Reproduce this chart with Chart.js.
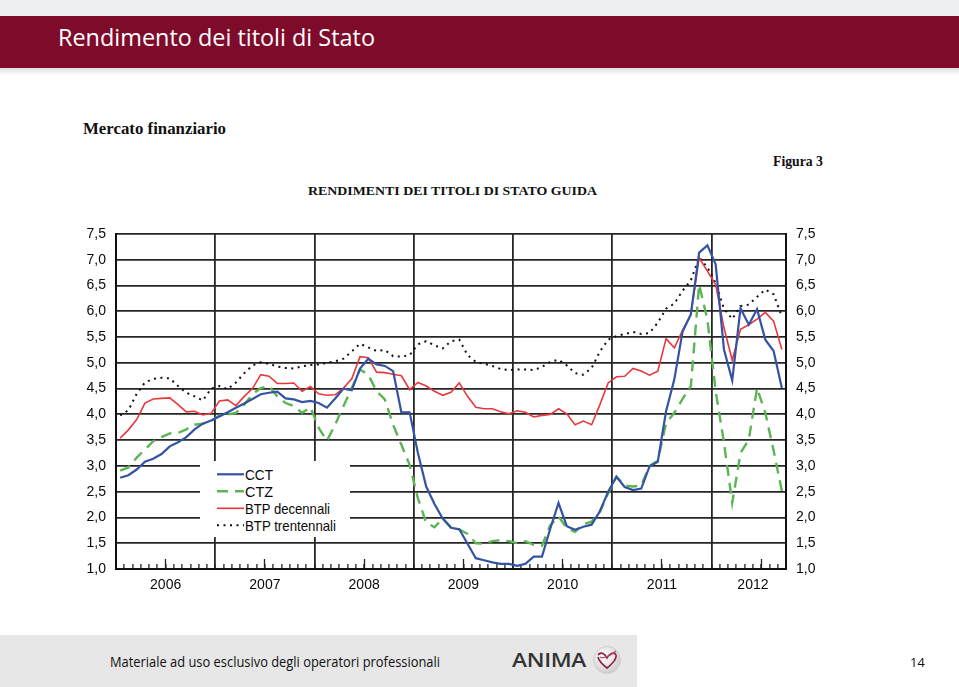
<!DOCTYPE html>
<html lang="it"><head><meta charset="utf-8"><title>Rendimento dei titoli di Stato</title>
<script src="https://cdn.jsdelivr.net/npm/chart.js@4.4.1/dist/chart.umd.min.js"></script>
<style>
html,body{margin:0;padding:0;background:#fff;}
#page{position:relative;width:959px;height:687px;overflow:hidden;background:#fff;}
.abs{position:absolute;white-space:nowrap;line-height:1;transform-origin:0 0;}
#topband{left:0;top:0;width:959px;height:16px;background:#eef0f3;}
#bar{left:0;top:16px;width:959px;height:52px;background:#7f0b2b;}
#shadow{left:0;top:68px;width:959px;height:7px;background:linear-gradient(#dedede,#ffffff);}
#title{left:58px;top:19.5px;color:#fff;font:24px "Open Sans",sans-serif;}
#sub{left:83px;top:119.6px;font:bold 16px "Liberation Serif",serif;color:#111;}
#fig{left:773px;top:153.8px;font:bold 14px "Liberation Serif",serif;color:#111;}
#ctitle{left:308px;top:182.6px;font:bold 13px "Liberation Serif",serif;color:#111;}
#chart{position:absolute;left:0;top:0;}
#legend{left:200px;top:461px;width:150px;height:76px;background:#fff;}
#legend .row{position:absolute;left:0;width:150px;height:16px;}
#legend svg{position:absolute;left:17px;top:0;}
#legend .lt{position:absolute;left:45px;top:0;font:14.5px "Liberation Sans",Arial,sans-serif;color:#0a0a0a;white-space:nowrap;line-height:1;transform-origin:0 0;}
#footer{left:0;top:635px;width:637px;height:52px;background:#e7e7e7;}
#ftext{left:110px;top:651.5px;font:14px "Open Sans",sans-serif;color:#111;}
#anima{left:512px;top:646px;font:600 20px "Open Sans",sans-serif;color:#333;letter-spacing:-0.3px;}
#logo{left:592px;top:645px;}
#pnum{left:910px;top:653px;font:13px "Open Sans",sans-serif;color:#111;}
</style></head>
<body><div id="page">
<div class="abs" id="topband"></div>
<div class="abs" id="bar"></div>
<div class="abs" id="shadow"></div>
<div class="abs" id="title">Rendimento dei titoli di Stato</div>
<div class="abs" id="sub">Mercato finanziario</div>
<div class="abs" id="fig">Figura 3</div>
<div class="abs" id="ctitle">RENDIMENTI DEI TITOLI DI STATO GUIDA</div>
<canvas id="chart" width="959" height="687"></canvas>
<div class="abs" id="legend"></div>
<div class="abs" id="footer"></div>
<div class="abs" id="ftext">Materiale ad uso esclusivo degli operatori professionali</div>
<div class="abs" id="anima">ANIMA</div>
<svg class="abs" id="logo" width="30" height="30" viewBox="0 0 30 30">
<defs><radialGradient id="g" cx="40%" cy="35%" r="65%"><stop offset="0" stop-color="#ffffff"/><stop offset="1" stop-color="#cfcfcf"/></radialGradient></defs>
<circle cx="15" cy="15" r="13.5" fill="url(#g)" stroke="#c9c9c9" stroke-width="0.8"/>
<path d="M6 10 C9 6,13 9,15 13 C17 9,22 6,24 10 C25 14,19 20,15 23 C11 20,7 16,6 12" fill="none" stroke="#8c1d45" stroke-width="1.6"/>
<path d="M8 12 C12 14,18 11,24 6" fill="none" stroke="#b04a72" stroke-width="1.2"/>
</svg>
<div class="abs" id="pnum">14</div>
</div>
<script>
// ---- data (monthly, Jan 2006 - Sep 2012) ----
const yearLabels = ['2006','2007','2008','2009','2010','2011','2012'];
const yearLabelPos = [6,18,30,42,54,66,77];
const midYearTicks = [6,18,30,42,54,66,78];
const seriesNames = ['CCT','CTZ','BTP decennali','BTP trentennali'];
const cct = [2.77,2.82,2.93,3.08,3.14,3.23,3.38,3.46,3.56,3.71,3.82,3.88,
3.96,4.04,4.13,4.21,4.30,4.39,4.42,4.44,4.31,4.29,4.24,4.26,
4.22,4.13,4.31,4.50,4.47,4.89,5.08,4.97,4.94,4.84,4.04,4.04,
3.25,2.60,2.26,1.98,1.80,1.77,1.49,1.21,1.17,1.13,1.10,1.10,
1.06,1.10,1.24,1.24,1.78,2.28,1.83,1.76,1.82,1.86,2.12,2.50,
2.79,2.59,2.53,2.56,2.99,3.08,4.06,4.68,5.61,5.94,7.14,7.28,
6.91,5.26,4.66,6.06,5.74,6.04,5.45,5.23,4.51];
const ctz = [2.91,2.97,3.16,3.32,3.48,3.56,3.63,3.64,3.71,3.80,3.82,3.87,
3.98,4.00,4.03,4.19,4.39,4.51,4.55,4.35,4.22,4.16,4.03,4.14,
3.74,3.49,3.80,4.16,4.51,4.87,4.77,4.45,4.29,3.80,3.41,3.02,
2.37,1.90,1.81,1.98,1.81,1.77,1.68,1.50,1.49,1.54,1.56,1.54,
1.50,1.54,1.47,1.45,1.85,2.02,1.79,1.72,1.87,1.92,2.11,2.47,
2.79,2.62,2.60,2.62,3.00,3.10,3.83,4.03,4.30,4.55,6.52,5.84,
4.45,3.45,2.28,3.25,3.51,4.51,4.03,3.30,2.51];
const btp10 = [3.54,3.70,3.90,4.22,4.30,4.31,4.32,4.19,4.05,4.06,3.99,4.02,
4.26,4.28,4.17,4.35,4.50,4.77,4.74,4.60,4.60,4.61,4.45,4.54,
4.40,4.37,4.38,4.51,4.69,5.12,5.10,4.82,4.81,4.78,4.75,4.48,
4.62,4.55,4.45,4.37,4.43,4.61,4.35,4.14,4.11,4.11,4.05,4.01,
4.07,4.04,3.95,3.98,4.00,4.11,4.01,3.80,3.87,3.80,4.19,4.61,
4.73,4.74,4.89,4.84,4.76,4.84,5.47,5.29,5.63,5.94,7.04,6.78,
6.52,5.68,5.05,5.65,5.74,5.85,5.98,5.81,5.26];
const btp30 = [3.98,4.08,4.40,4.62,4.69,4.71,4.70,4.55,4.42,4.35,4.27,4.50,
4.55,4.49,4.62,4.80,4.95,5.01,4.98,4.93,4.90,4.89,4.93,4.96,
4.97,5.00,5.03,5.08,5.22,5.37,5.30,5.23,5.25,5.13,5.12,5.15,
5.36,5.42,5.34,5.28,5.42,5.45,5.15,5.02,4.98,4.94,4.88,4.86,
4.87,4.87,4.86,4.92,5.02,5.06,4.95,4.80,4.77,4.90,5.22,5.45,
5.52,5.56,5.60,5.56,5.58,5.78,6.05,6.15,6.40,6.60,7.05,6.85,
6.55,6.05,5.85,6.10,6.13,6.28,6.42,6.33,5.90];
const yMin = 1.0, yMax = 7.5, yStep = 0.5;
const nMonths = 81;

const toPts = arr => arr.map((v,i)=>({x:i+0.5,y:v}));
const styles = [
  {color:'#3453a3', width:2.2, dash:[], order:0},
  {color:'#5ab552', width:2.4, dash:[11,7], order:3},
  {color:'#e8383d', width:1.6, dash:[], order:1},
  {color:'#111111', width:2, dash:[2,4.5], order:2}
];
const series = [cct, ctz, btp10, btp30];
const datasets = series.map((s,i)=>({
  label: seriesNames[i], data: toPts(s),
  borderColor: styles[i].color, borderWidth: styles[i].width, borderDash: styles[i].dash,
  pointRadius:0, tension:0, fill:false, order: styles[i].order
}));

const fmt = v => Number(v).toFixed(1).replace('.',',');
const tickFont = {family:'"Liberation Sans", Arial, sans-serif', size:14};
const gridDark = '#262626';

const chart = new Chart(document.getElementById('chart'), {
  type:'line',
  data:{datasets},
  options:{
    responsive:false, animation:false, devicePixelRatio:1,
    layout:{padding:{left:0,right:0,top:234,bottom:88}},
    plugins:{legend:{display:false}, tooltip:{enabled:false}},
    scales:{
      x:{type:'linear', position:'bottom', min:0, max:nMonths,
        afterBuildTicks: s => { const t=[]; for(let m=0;m<=nMonths;m++) t.push({value:m}); s.ticks=t; },
        ticks:{autoSkip:false, maxRotation:0, minRotation:0, padding:13, font:tickFont, color:'#0a0a0a',
          callback: v => { const i = yearLabelPos.indexOf(v); return i>=0 ? yearLabels[i] : ''; }},
        grid:{color: c => (c.tick && (c.tick.value % 12 === 0 || c.tick.value === nMonths)) ? gridDark : 'rgba(0,0,0,0)',
          lineWidth:1.8, drawTicks:true, tickLength:-5, tickColor:'#222', tickWidth:1.3},
        border:{display:true, color:'#111', width:2},
        afterFit: s => { s.height = 30; }
      },
      x2:{type:'linear', axis:'x', position:{y:1}, min:0, max:nMonths,
        afterBuildTicks: s => { s.ticks = midYearTicks.map(v=>({value:v})); },
        ticks:{display:false},
        grid:{drawOnChartArea:false, drawTicks:true, tickLength:-10, tickColor:'#222', tickWidth:1.3},
        border:{display:false},
        afterFit: s => { s.height = 0; }
      },
      y:{type:'linear', position:'left', min:yMin, max:yMax,
        ticks:{stepSize:yStep, padding:10, font:tickFont, color:'#0a0a0a', callback:fmt},
        grid:{color:gridDark, lineWidth:1.8, drawTicks:false},
        border:{display:true, color:'#111', width:2},
        afterFit: s => { s.width = 116; }
      },
      y2:{type:'linear', position:'right', min:yMin, max:yMax,
        ticks:{stepSize:yStep, padding:10, font:tickFont, color:'#0a0a0a', callback:fmt},
        grid:{drawOnChartArea:false, drawTicks:false},
        border:{display:true, color:'#111', width:2},
        afterFit: s => { s.width = 173; }
      }
    }
  }
});

// ---- legend built from the chart datasets ----
const leg = document.getElementById('legend');
const rowTops = [7.5, 24.7, 41.9, 59.1];
chart.data.datasets.forEach((d,i)=>{
  const row = document.createElement('div'); row.className='row'; row.style.top = (rowTops[i]-1)+'px';
  const dash = (d.borderDash && d.borderDash.length) ? d.borderDash.join(',') : 'none';
  row.innerHTML = '<svg width="28" height="14" style="top:0px"><line x1="0" y1="6.3" x2="27" y2="6.3" stroke="'+d.borderColor+'" stroke-width="'+d.borderWidth+'" stroke-dasharray="'+dash+'"/></svg><span class="lt">'+d.label+'</span>';
  leg.appendChild(row);
});

function fitW(el, w){ const r = el.getBoundingClientRect().width; if(r>0) el.style.transform = 'scaleX('+(w/r)+')'; }
fitW(document.getElementById('title'), 317);
fitW(document.getElementById('sub'), 143);
fitW(document.getElementById('fig'), 50);
fitW(document.getElementById('ctitle'), 289);
fitW(document.getElementById('ftext'), 330);
fitW(document.getElementById('anima'), 74);
const lw = [28, 28, 85, 91];
document.querySelectorAll('#legend .lt').forEach((el,i)=>fitW(el, lw[i]));
</script>
</body></html>
